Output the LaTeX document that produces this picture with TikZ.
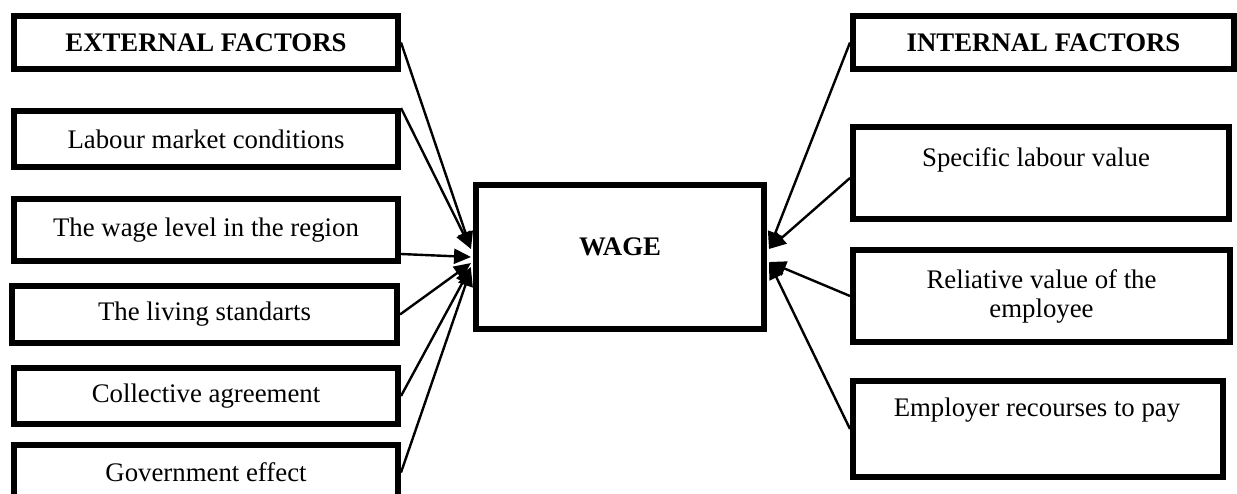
\documentclass[tikz,border=0pt]{standalone}
\usepackage{fontspec}
\setmainfont{Liberation Serif}
\usetikzlibrary{arrows.meta,calc}
\begin{document}
\begin{tikzpicture}[x=0.5pt,y=-0.5pt,
  box/.style={draw,line width=3pt,inner sep=0pt,rectangle,fill=white,
    font=\fontsize{13.4}{14.5}\selectfont,align=center},
  txt/.style={inner sep=0pt,font=\fontsize{13.4}{14.5}\selectfont,align=center},
  conn/.style={line width=1.2pt,-{Triangle[length=8.5pt,width=7.5pt]}}]
\useasboundingbox (0,0) rectangle (1237,493);
\clip (0,0) rectangle (1237,493);
% left boxes
\node[box,minimum width=192pt,minimum height=26.5pt] (ext) at (206,42.5) {\bfseries EXTERNAL FACTORS};
\node[box,minimum width=192pt,minimum height=28pt] (labour) at (206,139) {Labour market conditions};
\node[box,minimum width=192pt,minimum height=31pt] (wl) at (206,230) {The wage level in the region};
\node[box,minimum width=192.5pt,minimum height=28.5pt] (living) at (204.5,314.5) {The living standarts};
\node[box,minimum width=192pt,minimum height=28pt] (coll) at (206,396) {Collective agreement};
\node[box,minimum width=192pt,minimum height=27.5pt] (gov) at (206,472.5) {Government effect};
% centre
\node[box,minimum width=144pt,minimum height=72pt] (wage) at (620,257) {};
\node[txt,font=\fontsize{13.4}{14.5}\selectfont\bfseries] (waget) at (620,247) {WAGE};
% right boxes
\node[box,minimum width=190.5pt,minimum height=26.5pt] (int) at (1043.5,42.5) {\bfseries INTERNAL FACTORS};
\node[box,minimum width=188pt,minimum height=46pt] (spec) at (1041,173) {};
\node[txt] (spect) at (1036,160) {Specific labour value};
\node[box,minimum width=188.5pt,minimum height=46pt] (rel) at (1041.5,296) {Reliative value of the\\employee};
\node[box,minimum width=185pt,minimum height=48pt] (emp) at (1038,429) {};
\node[txt] (empt) at (1037,410) {Employer recourses to pay};
% connectors left
\draw[conn] (ext.east) -- ($(wage.west)+(-2,-8)$);
\draw[conn] (labour.north east) -- ($(wage.west)+(-2,-8)$);
\draw[conn] ($(wl.east)+(0,24)$) -- ($(wage.west)+(-2,0)$);
\draw[conn] (living.east) -- ($(wage.west)+(-2,6)$);
\draw[conn] (coll.east) -- ($(wage.west)+(-2,10)$);
\draw[conn] (gov.east) -- ($(wage.west)+(-2,12)$);
% connectors right
\draw[conn] (int.west) -- ($(wage.east)+(2,-8)$);
\draw[conn] ($(spec.west)+(0,5)$) -- ($(wage.east)+(2,-8)$);
\draw[conn] (rel.west) -- ($(wage.east)+(2,5)$);
\draw[conn] (emp.west) -- ($(wage.east)+(2,5)$);
\end{tikzpicture}
\end{document}
